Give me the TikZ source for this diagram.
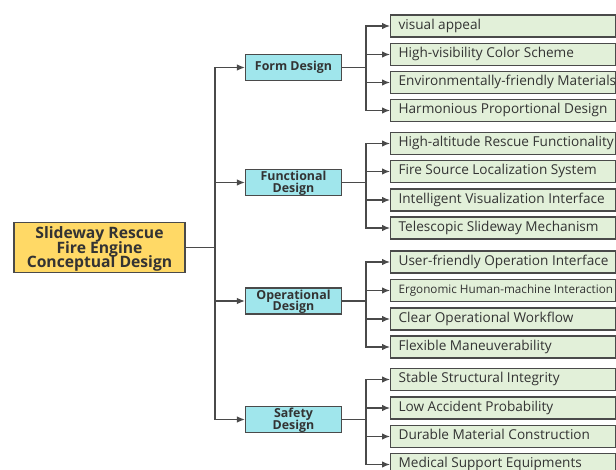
\documentclass[tikz,border=0pt]{standalone}
\usepackage{fontspec}
\setmainfont{Open Sans}
\usetikzlibrary{arrows.meta}
\definecolor{rootfill}{HTML}{FFD966}
\definecolor{catfill}{HTML}{A0E6EC}
\definecolor{leaffill}{HTML}{E2F0D9}
\definecolor{edgecol}{HTML}{4A4A4A}
\definecolor{txtcol}{HTML}{333333}
% leaf label: fixed-width, left-aligned, never wrapped
\newcommand\leaftext[1]{\makebox[209pt][l]{#1}}
% fixed baseline spacing for stacked lines
\newcommand\tightlines{\lineskiplimit=-20pt\relax}
\tikzset{
  box/.style={draw=edgecol, line width=1.2pt, text=txtcol, inner sep=0pt},
  rootbox/.style={box, fill=rootfill, minimum width=171pt, minimum height=50pt,
    align=center, text height=43pt, text depth=2pt,
    font={\fontsize{15.7}{14.7}\selectfont\bfseries\tightlines}},
  catbox/.style={box, fill=catfill, minimum width=96pt, minimum height=26pt,
    align=center, text height=9.5pt, text depth=3.1pt,
    font={\fontsize{12.4}{11.5}\selectfont\bfseries\tightlines}},
  twoline/.style={text height=22.7pt},
  leafbox/.style={box, fill=leaffill, anchor=west, minimum height=22pt,
    inner xsep=8pt, text height=10pt, text depth=3.4pt,
    font=\fontsize{13.6}{14}\selectfont},
  conn/.style={draw=edgecol, line width=1.2pt, -{Latex[length=8pt,width=6.5pt]}},
}
\begin{document}
\begin{tikzpicture}[x=1pt,y=-1pt]
\useasboundingbox (0,0) rectangle (616,470);
\clip (0,0) rectangle (616,470);

% root and main trunk
\node[rootbox] (root) at (99.5,247.5) {Slideway Rescue\\Fire Engine\\Conceptual Design};
\coordinate (trunk) at (215,247.5);

% design categories
\node[catbox] (form) at (293.5,67.5) {Form Design};
\node[catbox, twoline] (func) at (293.5,182.5) {Functional\\Design};
\node[catbox, twoline] (oper) at (293.5,301) {Operational\\Design};
\node[catbox, twoline] (safe) at (293.5,419.5) {Safety\\Design};

\foreach \c in {form,func,oper,safe}
  \draw[conn] (root.east) -- (trunk) |- (\c.west);

% form design items
\node[leafbox] (f1) at (390,26) {\leaftext{visual appeal}};
\node[leafbox] (f2) at (390,54.5) {\leaftext{High-visibility Color Scheme}};
\node[leafbox] (f3) at (390,82.5) {\leaftext{Environmentally-friendly Materials}};
\node[leafbox] (f4) at (390,110.5) {\leaftext{Harmonious Proportional Design}};

% functional design items
\node[leafbox] (u1) at (390,143.5) {\leaftext{High-altitude Rescue Functionality}};
\node[leafbox] (u2) at (390,171.5) {\leaftext{Fire Source Localization System}};
\node[leafbox] (u3) at (390,200) {\leaftext{Intelligent Visualization Interface}};
\node[leafbox] (u4) at (390,228) {\leaftext{Telescopic Slideway Mechanism}};

% operational design items
\node[leafbox] (o1) at (390,262) {\leaftext{User-friendly Operation Interface}};
\node[leafbox, font=\fontsize{11.7}{12}\selectfont] (o2) at (390,290.5) {\leaftext{Ergonomic Human-machine Interaction}};
\node[leafbox] (o3) at (390,319) {\leaftext{Clear Operational Workflow}};
\node[leafbox] (o4) at (390,347) {\leaftext{Flexible Maneuverability}};

% safety design items
\node[leafbox] (s1) at (390,379.5) {\leaftext{Stable Structural Integrity}};
\node[leafbox] (s2) at (390,408) {\leaftext{Low Accident Probability}};
\node[leafbox] (s3) at (390,436.5) {\leaftext{Durable Material Construction}};
\node[leafbox] (s4) at (390,464.5) {\leaftext{Medical Support Equipments}};

% branch lines
\coordinate (jf) at (366,67.5);
\coordinate (ju) at (366,182.5);
\coordinate (jo) at (366,301);
\coordinate (js) at (366,419.5);
\foreach \l in {f1,f2,f3,f4} \draw[conn] (form.east) -- (jf) |- (\l.west);
\foreach \l in {u1,u2,u3,u4} \draw[conn] (func.east) -- (ju) |- (\l.west);
\foreach \l in {o1,o2,o3,o4} \draw[conn] (oper.east) -- (jo) |- (\l.west);
\foreach \l in {s1,s2,s3,s4} \draw[conn] (safe.east) -- (js) |- (\l.west);
\end{tikzpicture}
\end{document}
